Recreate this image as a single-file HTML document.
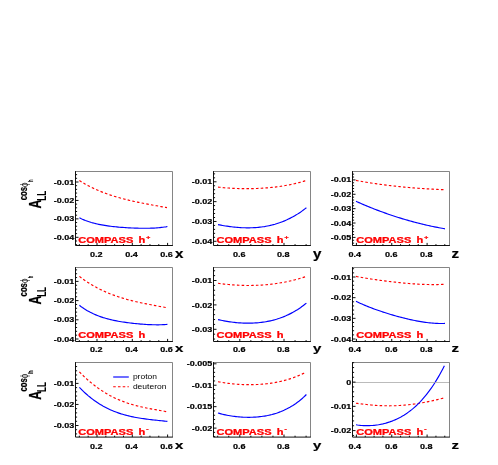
<!DOCTYPE html>
<html><head><meta charset="utf-8"><title>plot</title>
<style>html,body{margin:0;padding:0;background:#fff}svg{display:block}</style></head>
<body>
<svg width="498" height="465" viewBox="0 0 498 465" font-family="Liberation Sans, Arial, Helvetica, sans-serif">
<rect width="498" height="465" fill="#fff"/>
<defs><filter id="soft" x="0" y="0" width="100%" height="100%" filterUnits="userSpaceOnUse"><feGaussianBlur stdDeviation="0.35"/></filter></defs>
<g filter="url(#soft)">
<rect width="498" height="465" fill="#fff"/>
<path d="M79.40,180.61 L80.88,181.53 L82.37,182.42 L83.85,183.29 L85.34,184.13 L86.82,184.95 L88.31,185.74 L89.79,186.51 L91.28,187.25 L92.76,187.97 L94.25,188.67 L95.73,189.35 L97.22,190.01 L98.70,190.65 L100.19,191.27 L101.67,191.87 L103.16,192.45 L104.64,193.01 L106.13,193.56 L107.61,194.09 L109.09,194.60 L110.58,195.10 L112.06,195.59 L113.55,196.06 L115.03,196.51 L116.52,196.96 L118.00,197.39 L119.49,197.81 L120.97,198.21 L122.46,198.61 L123.94,199.00 L125.43,199.37 L126.91,199.74 L128.40,200.10 L129.88,200.45 L131.37,200.79 L132.85,201.12 L134.34,201.45 L135.82,201.77 L137.31,202.08 L138.79,202.39 L140.27,202.69 L141.76,202.99 L143.24,203.28 L144.73,203.57 L146.21,203.85 L147.70,204.14 L149.18,204.42 L150.67,204.69 L152.15,204.97 L153.64,205.24 L155.12,205.51 L156.61,205.78 L158.09,206.05 L159.58,206.32 L161.06,206.59 L162.55,206.87 L164.03,207.14 L165.52,207.41 L167.00,207.68" fill="none" stroke="#ff0000" stroke-width="1.15" stroke-dasharray="2.55,2.2"/>
<path d="M79.40,217.83 L80.89,218.55 L82.38,219.22 L83.87,219.85 L85.37,220.45 L86.86,221.00 L88.35,221.52 L89.84,222.01 L91.33,222.47 L92.82,222.89 L94.32,223.29 L95.81,223.67 L97.30,224.01 L98.79,224.34 L100.28,224.64 L101.77,224.93 L103.26,225.19 L104.76,225.44 L106.25,225.67 L107.74,225.89 L109.23,226.09 L110.72,226.28 L112.21,226.46 L113.71,226.63 L115.20,226.78 L116.69,226.93 L118.18,227.07 L119.67,227.20 L121.16,227.32 L122.65,227.43 L124.15,227.53 L125.64,227.63 L127.13,227.73 L128.62,227.81 L130.11,227.89 L131.60,227.96 L133.09,228.03 L134.59,228.09 L136.08,228.14 L137.57,228.18 L139.06,228.22 L140.55,228.25 L142.04,228.27 L143.54,228.28 L145.03,228.29 L146.52,228.28 L148.01,228.26 L149.50,228.23 L150.99,228.19 L152.48,228.13 L153.98,228.06 L155.47,227.97 L156.96,227.87 L158.45,227.74 L159.94,227.60 L161.43,227.44 L162.93,227.25 L164.42,227.04 L165.91,226.81 L167.40,226.54" fill="none" stroke="#0000ff" stroke-width="1.15"/>
<text transform="translate(74.20,184.50) scale(1.2,1)" font-size="7.5" font-weight="bold" text-anchor="end" fill="#000"  stroke="#000" stroke-width="0.2">-0.01</text>
<text transform="translate(74.20,202.80) scale(1.2,1)" font-size="7.5" font-weight="bold" text-anchor="end" fill="#000"  stroke="#000" stroke-width="0.2">-0.02</text>
<text transform="translate(74.20,221.30) scale(1.2,1)" font-size="7.5" font-weight="bold" text-anchor="end" fill="#000"  stroke="#000" stroke-width="0.2">-0.03</text>
<text transform="translate(74.20,239.80) scale(1.2,1)" font-size="7.5" font-weight="bold" text-anchor="end" fill="#000"  stroke="#000" stroke-width="0.2">-0.04</text>
<text transform="translate(96.30,257.00) scale(1.21,1)" font-size="7.5" font-weight="bold" text-anchor="middle" fill="#000"  stroke="#000" stroke-width="0.2">0.2</text>
<text transform="translate(131.60,257.00) scale(1.21,1)" font-size="7.5" font-weight="bold" text-anchor="middle" fill="#000"  stroke="#000" stroke-width="0.2">0.4</text>
<text transform="translate(166.60,257.00) scale(1.21,1)" font-size="7.5" font-weight="bold" text-anchor="middle" fill="#000"  stroke="#000" stroke-width="0.2">0.6</text>
<text transform="translate(175.10,258.00) scale(1.25,1)" font-size="12.1" font-weight="bold" text-anchor="start" fill="#000"  stroke="#000" stroke-width="0.2">x</text>
<text transform="translate(78.20,243.00) scale(1.335,1)" font-size="8.3" font-weight="bold" text-anchor="start" fill="#ff0000"  stroke="#ff0000" stroke-width="0.25">COMPASS <tspan dx="1.6">h</tspan><tspan font-size="5.2" dx="0.7" dy="-3.6">+</tspan></text>
<path d="M218.00,187.09 L219.50,187.26 L221.00,187.42 L222.49,187.57 L223.99,187.70 L225.49,187.83 L226.99,187.95 L228.49,188.05 L229.99,188.15 L231.48,188.24 L232.98,188.32 L234.48,188.39 L235.98,188.46 L237.48,188.51 L238.98,188.56 L240.47,188.59 L241.97,188.62 L243.47,188.64 L244.97,188.65 L246.47,188.66 L247.97,188.65 L249.46,188.64 L250.96,188.62 L252.46,188.59 L253.96,188.55 L255.46,188.50 L256.96,188.45 L258.45,188.39 L259.95,188.31 L261.45,188.23 L262.95,188.14 L264.45,188.04 L265.95,187.93 L267.44,187.81 L268.94,187.68 L270.44,187.54 L271.94,187.39 L273.44,187.24 L274.94,187.07 L276.43,186.88 L277.93,186.69 L279.43,186.49 L280.93,186.27 L282.43,186.04 L283.93,185.80 L285.42,185.55 L286.92,185.28 L288.42,185.00 L289.92,184.71 L291.42,184.40 L292.92,184.07 L294.41,183.73 L295.91,183.38 L297.41,183.01 L298.91,182.62 L300.41,182.21 L301.91,181.79 L303.40,181.35 L304.90,180.88 L306.40,180.40" fill="none" stroke="#ff0000" stroke-width="1.15" stroke-dasharray="2.55,2.2"/>
<path d="M218.00,224.60 L219.50,224.90 L221.00,225.18 L222.49,225.45 L223.99,225.71 L225.49,225.96 L226.99,226.19 L228.49,226.41 L229.99,226.61 L231.48,226.80 L232.98,226.97 L234.48,227.13 L235.98,227.28 L237.48,227.41 L238.98,227.52 L240.47,227.62 L241.97,227.70 L243.47,227.76 L244.97,227.80 L246.47,227.83 L247.97,227.84 L249.46,227.82 L250.96,227.79 L252.46,227.74 L253.96,227.67 L255.46,227.58 L256.96,227.46 L258.45,227.33 L259.95,227.17 L261.45,226.99 L262.95,226.78 L264.45,226.56 L265.95,226.30 L267.44,226.02 L268.94,225.72 L270.44,225.39 L271.94,225.03 L273.44,224.64 L274.94,224.23 L276.43,223.78 L277.93,223.31 L279.43,222.81 L280.93,222.27 L282.43,221.70 L283.93,221.10 L285.42,220.47 L286.92,219.81 L288.42,219.10 L289.92,218.37 L291.42,217.60 L292.92,216.79 L294.41,215.94 L295.91,215.05 L297.41,214.13 L298.91,213.16 L300.41,212.16 L301.91,211.11 L303.40,210.02 L304.90,208.88 L306.40,207.71" fill="none" stroke="#0000ff" stroke-width="1.15"/>
<text transform="translate(212.20,184.30) scale(1.2,1)" font-size="7.5" font-weight="bold" text-anchor="end" fill="#000"  stroke="#000" stroke-width="0.2">-0.01</text>
<text transform="translate(212.20,204.10) scale(1.2,1)" font-size="7.5" font-weight="bold" text-anchor="end" fill="#000"  stroke="#000" stroke-width="0.2">-0.02</text>
<text transform="translate(212.20,224.00) scale(1.2,1)" font-size="7.5" font-weight="bold" text-anchor="end" fill="#000"  stroke="#000" stroke-width="0.2">-0.03</text>
<text transform="translate(212.20,243.80) scale(1.2,1)" font-size="7.5" font-weight="bold" text-anchor="end" fill="#000"  stroke="#000" stroke-width="0.2">-0.04</text>
<text transform="translate(239.20,257.00) scale(1.21,1)" font-size="7.5" font-weight="bold" text-anchor="middle" fill="#000"  stroke="#000" stroke-width="0.2">0.6</text>
<text transform="translate(283.30,257.00) scale(1.21,1)" font-size="7.5" font-weight="bold" text-anchor="middle" fill="#000"  stroke="#000" stroke-width="0.2">0.8</text>
<text transform="translate(313.10,258.00) scale(1.25,1)" font-size="12.1" font-weight="bold" text-anchor="start" fill="#000"  stroke="#000" stroke-width="0.2">y</text>
<text transform="translate(216.50,243.00) scale(1.335,1)" font-size="8.3" font-weight="bold" text-anchor="start" fill="#ff0000"  stroke="#ff0000" stroke-width="0.25">COMPASS <tspan dx="1.6">h</tspan><tspan font-size="5.2" dx="0.7" dy="-3.6">+</tspan></text>
<path d="M356.00,180.40 L357.51,180.69 L359.02,180.96 L360.53,181.24 L362.03,181.51 L363.54,181.77 L365.05,182.02 L366.56,182.28 L368.07,182.52 L369.58,182.76 L371.08,183.00 L372.59,183.23 L374.10,183.45 L375.61,183.67 L377.12,183.89 L378.63,184.10 L380.14,184.31 L381.64,184.51 L383.15,184.71 L384.66,184.91 L386.17,185.10 L387.68,185.28 L389.19,185.46 L390.69,185.64 L392.20,185.82 L393.71,185.99 L395.22,186.15 L396.73,186.32 L398.24,186.48 L399.75,186.63 L401.25,186.78 L402.76,186.93 L404.27,187.08 L405.78,187.22 L407.29,187.36 L408.80,187.49 L410.31,187.62 L411.81,187.75 L413.32,187.88 L414.83,188.00 L416.34,188.11 L417.85,188.23 L419.36,188.34 L420.86,188.45 L422.37,188.55 L423.88,188.65 L425.39,188.75 L426.90,188.85 L428.41,188.94 L429.92,189.02 L431.42,189.11 L432.93,189.19 L434.44,189.26 L435.95,189.34 L437.46,189.41 L438.97,189.47 L440.47,189.54 L441.98,189.59 L443.49,189.65 L445.00,189.70" fill="none" stroke="#ff0000" stroke-width="1.15" stroke-dasharray="2.55,2.2"/>
<path d="M356.00,201.29 L357.51,201.97 L359.02,202.64 L360.53,203.30 L362.03,203.96 L363.54,204.60 L365.05,205.24 L366.56,205.88 L368.07,206.50 L369.58,207.12 L371.08,207.73 L372.59,208.33 L374.10,208.92 L375.61,209.51 L377.12,210.09 L378.63,210.66 L380.14,211.22 L381.64,211.78 L383.15,212.33 L384.66,212.87 L386.17,213.41 L387.68,213.94 L389.19,214.46 L390.69,214.97 L392.20,215.48 L393.71,215.98 L395.22,216.47 L396.73,216.96 L398.24,217.44 L399.75,217.91 L401.25,218.37 L402.76,218.83 L404.27,219.28 L405.78,219.72 L407.29,220.16 L408.80,220.59 L410.31,221.01 L411.81,221.42 L413.32,221.83 L414.83,222.23 L416.34,222.63 L417.85,223.02 L419.36,223.40 L420.86,223.77 L422.37,224.14 L423.88,224.50 L425.39,224.85 L426.90,225.20 L428.41,225.53 L429.92,225.87 L431.42,226.19 L432.93,226.51 L434.44,226.82 L435.95,227.13 L437.46,227.42 L438.97,227.72 L440.47,228.00 L441.98,228.28 L443.49,228.55 L445.00,228.81" fill="none" stroke="#0000ff" stroke-width="1.15"/>
<text transform="translate(351.20,182.40) scale(1.2,1)" font-size="7.5" font-weight="bold" text-anchor="end" fill="#000"  stroke="#000" stroke-width="0.2">-0.01</text>
<text transform="translate(351.20,196.70) scale(1.2,1)" font-size="7.5" font-weight="bold" text-anchor="end" fill="#000"  stroke="#000" stroke-width="0.2">-0.02</text>
<text transform="translate(351.20,211.10) scale(1.2,1)" font-size="7.5" font-weight="bold" text-anchor="end" fill="#000"  stroke="#000" stroke-width="0.2">-0.03</text>
<text transform="translate(351.20,225.50) scale(1.2,1)" font-size="7.5" font-weight="bold" text-anchor="end" fill="#000"  stroke="#000" stroke-width="0.2">-0.04</text>
<text transform="translate(351.20,239.90) scale(1.2,1)" font-size="7.5" font-weight="bold" text-anchor="end" fill="#000"  stroke="#000" stroke-width="0.2">-0.05</text>
<text transform="translate(354.70,257.00) scale(1.21,1)" font-size="7.5" font-weight="bold" text-anchor="middle" fill="#000"  stroke="#000" stroke-width="0.2">0.4</text>
<text transform="translate(391.20,257.00) scale(1.21,1)" font-size="7.5" font-weight="bold" text-anchor="middle" fill="#000"  stroke="#000" stroke-width="0.2">0.6</text>
<text transform="translate(426.30,257.00) scale(1.21,1)" font-size="7.5" font-weight="bold" text-anchor="middle" fill="#000"  stroke="#000" stroke-width="0.2">0.8</text>
<text transform="translate(451.60,258.00) scale(1.25,1)" font-size="12.1" font-weight="bold" text-anchor="start" fill="#000"  stroke="#000" stroke-width="0.2">z</text>
<text transform="translate(356.20,243.00) scale(1.335,1)" font-size="8.3" font-weight="bold" text-anchor="start" fill="#ff0000"  stroke="#ff0000" stroke-width="0.25">COMPASS <tspan dx="1.6">h</tspan><tspan font-size="5.2" dx="0.7" dy="-3.6">+</tspan></text>
<text transform="translate(41.20,208.50) rotate(-90) scale(0.85,1.18)" font-size="14.5" font-weight="bold" stroke="#000" stroke-width="0.2">A</text>
<text transform="translate(46.00,200.70) rotate(-90) scale(0.8,1.22)" font-size="10" font-weight="bold">LL</text>
<text transform="translate(27.00,200.30) rotate(-90) scale(0.86,1.18)" font-size="9" font-weight="bold" stroke="#000" stroke-width="0.2">cos</text>
<text transform="translate(27.50,187.00) rotate(-90) scale(0.86,1.2)" font-size="9.5" font-weight="normal">&#x3d5;</text>
<text transform="translate(33.20,182.10) rotate(-90) scale(0.75,1.18)" font-size="5.5" font-weight="bold" stroke="#000" stroke-width="0.1">h</text>
<path d="M79.40,276.40 L80.89,277.53 L82.38,278.62 L83.87,279.68 L85.37,280.71 L86.86,281.71 L88.35,282.68 L89.84,283.62 L91.33,284.53 L92.82,285.41 L94.32,286.26 L95.81,287.09 L97.30,287.89 L98.79,288.66 L100.28,289.41 L101.77,290.14 L103.26,290.84 L104.76,291.52 L106.25,292.18 L107.74,292.82 L109.23,293.43 L110.72,294.03 L112.21,294.60 L113.71,295.16 L115.20,295.70 L116.69,296.22 L118.18,296.73 L119.67,297.22 L121.16,297.69 L122.65,298.15 L124.15,298.59 L125.64,299.02 L127.13,299.44 L128.62,299.85 L130.11,300.24 L131.60,300.62 L133.09,300.99 L134.59,301.35 L136.08,301.70 L137.57,302.04 L139.06,302.38 L140.55,302.70 L142.04,303.02 L143.54,303.33 L145.03,303.63 L146.52,303.93 L148.01,304.23 L149.50,304.51 L150.99,304.80 L152.48,305.08 L153.98,305.36 L155.47,305.63 L156.96,305.91 L158.45,306.18 L159.94,306.45 L161.43,306.72 L162.93,306.99 L164.42,307.26 L165.91,307.53 L167.40,307.80" fill="none" stroke="#ff0000" stroke-width="1.15" stroke-dasharray="2.55,2.2"/>
<path d="M79.40,305.30 L80.89,306.44 L82.38,307.51 L83.87,308.53 L85.37,309.49 L86.86,310.40 L88.35,311.25 L89.84,312.07 L91.33,312.83 L92.82,313.56 L94.32,314.24 L95.81,314.88 L97.30,315.49 L98.79,316.07 L100.28,316.61 L101.77,317.12 L103.26,317.61 L104.76,318.06 L106.25,318.49 L107.74,318.90 L109.23,319.29 L110.72,319.65 L112.21,320.00 L113.71,320.32 L115.20,320.63 L116.69,320.92 L118.18,321.20 L119.67,321.47 L121.16,321.72 L122.65,321.96 L124.15,322.18 L125.64,322.40 L127.13,322.61 L128.62,322.80 L130.11,322.99 L131.60,323.17 L133.09,323.34 L134.59,323.50 L136.08,323.65 L137.57,323.79 L139.06,323.93 L140.55,324.06 L142.04,324.18 L143.54,324.29 L145.03,324.39 L146.52,324.48 L148.01,324.56 L149.50,324.63 L150.99,324.69 L152.48,324.74 L153.98,324.78 L155.47,324.80 L156.96,324.81 L158.45,324.81 L159.94,324.79 L161.43,324.75 L162.93,324.69 L164.42,324.61 L165.91,324.52 L167.40,324.40" fill="none" stroke="#0000ff" stroke-width="1.15"/>
<text transform="translate(74.20,283.90) scale(1.2,1)" font-size="7.5" font-weight="bold" text-anchor="end" fill="#000"  stroke="#000" stroke-width="0.2">-0.01</text>
<text transform="translate(74.20,303.10) scale(1.2,1)" font-size="7.5" font-weight="bold" text-anchor="end" fill="#000"  stroke="#000" stroke-width="0.2">-0.02</text>
<text transform="translate(74.20,322.30) scale(1.2,1)" font-size="7.5" font-weight="bold" text-anchor="end" fill="#000"  stroke="#000" stroke-width="0.2">-0.03</text>
<text transform="translate(74.20,341.50) scale(1.2,1)" font-size="7.5" font-weight="bold" text-anchor="end" fill="#000"  stroke="#000" stroke-width="0.2">-0.04</text>
<text transform="translate(96.30,352.00) scale(1.31,1)" font-size="6.9" font-weight="bold" text-anchor="middle" fill="#000"  stroke="#000" stroke-width="0.2">0.2</text>
<text transform="translate(131.60,352.00) scale(1.31,1)" font-size="6.9" font-weight="bold" text-anchor="middle" fill="#000"  stroke="#000" stroke-width="0.2">0.4</text>
<text transform="translate(166.60,352.00) scale(1.31,1)" font-size="6.9" font-weight="bold" text-anchor="middle" fill="#000"  stroke="#000" stroke-width="0.2">0.6</text>
<text transform="translate(175.10,352.00) scale(1.33,1)" font-size="11.3" font-weight="bold" text-anchor="start" fill="#000"  stroke="#000" stroke-width="0.2">x</text>
<text transform="translate(78.20,338.00) scale(1.335,1)" font-size="8.3" font-weight="bold" text-anchor="start" fill="#ff0000"  stroke="#ff0000" stroke-width="0.25">COMPASS <tspan dx="1.6">h</tspan></text>
<path d="M218.00,283.30 L219.50,283.50 L221.00,283.70 L222.49,283.89 L223.99,284.06 L225.49,284.23 L226.99,284.38 L228.49,284.53 L229.99,284.66 L231.48,284.79 L232.98,284.90 L234.48,285.01 L235.98,285.10 L237.48,285.18 L238.98,285.25 L240.47,285.32 L241.97,285.37 L243.47,285.41 L244.97,285.44 L246.47,285.46 L247.97,285.47 L249.46,285.47 L250.96,285.46 L252.46,285.43 L253.96,285.40 L255.46,285.35 L256.96,285.30 L258.45,285.23 L259.95,285.15 L261.45,285.06 L262.95,284.96 L264.45,284.85 L265.95,284.72 L267.44,284.58 L268.94,284.43 L270.44,284.27 L271.94,284.10 L273.44,283.91 L274.94,283.72 L276.43,283.51 L277.93,283.28 L279.43,283.05 L280.93,282.80 L282.43,282.53 L283.93,282.26 L285.42,281.97 L286.92,281.66 L288.42,281.35 L289.92,281.02 L291.42,280.67 L292.92,280.31 L294.41,279.94 L295.91,279.55 L297.41,279.14 L298.91,278.73 L300.41,278.29 L301.91,277.84 L303.40,277.38 L304.90,276.89 L306.40,276.40" fill="none" stroke="#ff0000" stroke-width="1.15" stroke-dasharray="2.55,2.2"/>
<path d="M218.00,319.59 L219.50,319.93 L221.00,320.25 L222.49,320.55 L223.99,320.84 L225.49,321.11 L226.99,321.37 L228.49,321.61 L229.99,321.83 L231.48,322.04 L232.98,322.23 L234.48,322.40 L235.98,322.56 L237.48,322.70 L238.98,322.82 L240.47,322.92 L241.97,323.01 L243.47,323.08 L244.97,323.13 L246.47,323.16 L247.97,323.17 L249.46,323.17 L250.96,323.14 L252.46,323.09 L253.96,323.03 L255.46,322.94 L256.96,322.83 L258.45,322.70 L259.95,322.55 L261.45,322.38 L262.95,322.18 L264.45,321.96 L265.95,321.71 L267.44,321.44 L268.94,321.14 L270.44,320.82 L271.94,320.47 L273.44,320.09 L274.94,319.68 L276.43,319.25 L277.93,318.78 L279.43,318.29 L280.93,317.76 L282.43,317.20 L283.93,316.61 L285.42,315.99 L286.92,315.32 L288.42,314.63 L289.92,313.89 L291.42,313.12 L292.92,312.32 L294.41,311.47 L295.91,310.58 L297.41,309.65 L298.91,308.67 L300.41,307.66 L301.91,306.59 L303.40,305.48 L304.90,304.33 L306.40,303.13" fill="none" stroke="#0000ff" stroke-width="1.15"/>
<text transform="translate(212.20,283.00) scale(1.2,1)" font-size="7.5" font-weight="bold" text-anchor="end" fill="#000"  stroke="#000" stroke-width="0.2">-0.01</text>
<text transform="translate(212.20,307.50) scale(1.2,1)" font-size="7.5" font-weight="bold" text-anchor="end" fill="#000"  stroke="#000" stroke-width="0.2">-0.02</text>
<text transform="translate(212.20,331.80) scale(1.2,1)" font-size="7.5" font-weight="bold" text-anchor="end" fill="#000"  stroke="#000" stroke-width="0.2">-0.03</text>
<text transform="translate(239.20,352.00) scale(1.31,1)" font-size="6.9" font-weight="bold" text-anchor="middle" fill="#000"  stroke="#000" stroke-width="0.2">0.6</text>
<text transform="translate(283.30,352.00) scale(1.31,1)" font-size="6.9" font-weight="bold" text-anchor="middle" fill="#000"  stroke="#000" stroke-width="0.2">0.8</text>
<text transform="translate(313.10,352.00) scale(1.33,1)" font-size="11.3" font-weight="bold" text-anchor="start" fill="#000"  stroke="#000" stroke-width="0.2">y</text>
<text transform="translate(216.50,338.00) scale(1.335,1)" font-size="8.3" font-weight="bold" text-anchor="start" fill="#ff0000"  stroke="#ff0000" stroke-width="0.25">COMPASS <tspan dx="1.6">h</tspan></text>
<path d="M356.00,276.40 L357.51,276.69 L359.02,276.96 L360.53,277.23 L362.03,277.50 L363.54,277.76 L365.05,278.01 L366.56,278.26 L368.07,278.51 L369.58,278.75 L371.08,278.99 L372.59,279.22 L374.10,279.44 L375.61,279.67 L377.12,279.88 L378.63,280.10 L380.14,280.31 L381.64,280.51 L383.15,280.72 L384.66,280.91 L386.17,281.11 L387.68,281.30 L389.19,281.48 L390.69,281.66 L392.20,281.84 L393.71,282.01 L395.22,282.18 L396.73,282.34 L398.24,282.50 L399.75,282.66 L401.25,282.81 L402.76,282.95 L404.27,283.10 L405.78,283.23 L407.29,283.36 L408.80,283.49 L410.31,283.61 L411.81,283.72 L413.32,283.83 L414.83,283.93 L416.34,284.03 L417.85,284.12 L419.36,284.20 L420.86,284.28 L422.37,284.34 L423.88,284.41 L425.39,284.46 L426.90,284.50 L428.41,284.54 L429.92,284.57 L431.42,284.59 L432.93,284.60 L434.44,284.60 L435.95,284.59 L437.46,284.57 L438.97,284.54 L440.47,284.49 L441.98,284.44 L443.49,284.38 L445.00,284.30" fill="none" stroke="#ff0000" stroke-width="1.15" stroke-dasharray="2.55,2.2"/>
<path d="M356.00,301.30 L357.51,302.02 L359.02,302.72 L360.53,303.41 L362.03,304.08 L363.54,304.73 L365.05,305.37 L366.56,305.99 L368.07,306.61 L369.58,307.20 L371.08,307.79 L372.59,308.36 L374.10,308.93 L375.61,309.48 L377.12,310.02 L378.63,310.55 L380.14,311.07 L381.64,311.58 L383.15,312.08 L384.66,312.57 L386.17,313.06 L387.68,313.53 L389.19,314.00 L390.69,314.46 L392.20,314.90 L393.71,315.34 L395.22,315.78 L396.73,316.20 L398.24,316.61 L399.75,317.02 L401.25,317.42 L402.76,317.80 L404.27,318.18 L405.78,318.55 L407.29,318.91 L408.80,319.26 L410.31,319.60 L411.81,319.93 L413.32,320.25 L414.83,320.55 L416.34,320.85 L417.85,321.13 L419.36,321.40 L420.86,321.66 L422.37,321.90 L423.88,322.13 L425.39,322.34 L426.90,322.54 L428.41,322.72 L429.92,322.89 L431.42,323.03 L432.93,323.16 L434.44,323.27 L435.95,323.35 L437.46,323.42 L438.97,323.46 L440.47,323.48 L441.98,323.48 L443.49,323.45 L445.00,323.39" fill="none" stroke="#0000ff" stroke-width="1.15"/>
<text transform="translate(351.20,279.50) scale(1.2,1)" font-size="7.5" font-weight="bold" text-anchor="end" fill="#000"  stroke="#000" stroke-width="0.2">-0.01</text>
<text transform="translate(351.20,300.20) scale(1.2,1)" font-size="7.5" font-weight="bold" text-anchor="end" fill="#000"  stroke="#000" stroke-width="0.2">-0.02</text>
<text transform="translate(351.20,320.80) scale(1.2,1)" font-size="7.5" font-weight="bold" text-anchor="end" fill="#000"  stroke="#000" stroke-width="0.2">-0.03</text>
<text transform="translate(351.20,341.50) scale(1.2,1)" font-size="7.5" font-weight="bold" text-anchor="end" fill="#000"  stroke="#000" stroke-width="0.2">-0.04</text>
<text transform="translate(354.70,352.00) scale(1.31,1)" font-size="6.9" font-weight="bold" text-anchor="middle" fill="#000"  stroke="#000" stroke-width="0.2">0.4</text>
<text transform="translate(391.20,352.00) scale(1.31,1)" font-size="6.9" font-weight="bold" text-anchor="middle" fill="#000"  stroke="#000" stroke-width="0.2">0.6</text>
<text transform="translate(426.30,352.00) scale(1.31,1)" font-size="6.9" font-weight="bold" text-anchor="middle" fill="#000"  stroke="#000" stroke-width="0.2">0.8</text>
<text transform="translate(451.60,352.00) scale(1.33,1)" font-size="11.3" font-weight="bold" text-anchor="start" fill="#000"  stroke="#000" stroke-width="0.2">z</text>
<text transform="translate(356.20,338.00) scale(1.335,1)" font-size="8.3" font-weight="bold" text-anchor="start" fill="#ff0000"  stroke="#ff0000" stroke-width="0.25">COMPASS <tspan dx="1.6">h</tspan></text>
<text transform="translate(41.20,304.60) rotate(-90) scale(0.85,1.18)" font-size="14.5" font-weight="bold" stroke="#000" stroke-width="0.2">A</text>
<text transform="translate(46.00,296.80) rotate(-90) scale(0.8,1.22)" font-size="10" font-weight="bold">LL</text>
<text transform="translate(27.00,296.40) rotate(-90) scale(0.86,1.18)" font-size="9" font-weight="bold" stroke="#000" stroke-width="0.2">cos</text>
<text transform="translate(27.50,283.10) rotate(-90) scale(0.86,1.2)" font-size="9.5" font-weight="normal">&#x3d5;</text>
<text transform="translate(33.20,278.20) rotate(-90) scale(0.75,1.18)" font-size="5.5" font-weight="bold" stroke="#000" stroke-width="0.1">h</text>
<path d="M79.40,371.91 L80.89,373.42 L82.38,374.90 L83.87,376.33 L85.37,377.73 L86.86,379.09 L88.35,380.41 L89.84,381.69 L91.33,382.93 L92.82,384.14 L94.32,385.31 L95.81,386.44 L97.30,387.54 L98.79,388.61 L100.28,389.64 L101.77,390.63 L103.26,391.59 L104.76,392.52 L106.25,393.42 L107.74,394.28 L109.23,395.12 L110.72,395.92 L112.21,396.69 L113.71,397.44 L115.20,398.15 L116.69,398.84 L118.18,399.50 L119.67,400.14 L121.16,400.75 L122.65,401.33 L124.15,401.89 L125.64,402.43 L127.13,402.94 L128.62,403.43 L130.11,403.91 L131.60,404.36 L133.09,404.79 L134.59,405.21 L136.08,405.61 L137.57,405.99 L139.06,406.35 L140.55,406.71 L142.04,407.05 L143.54,407.37 L145.03,407.69 L146.52,408.00 L148.01,408.29 L149.50,408.58 L150.99,408.87 L152.48,409.14 L153.98,409.42 L155.47,409.68 L156.96,409.95 L158.45,410.22 L159.94,410.48 L161.43,410.75 L162.93,411.02 L164.42,411.29 L165.91,411.57 L167.40,411.85" fill="none" stroke="#ff0000" stroke-width="1.15" stroke-dasharray="2.55,2.2"/>
<path d="M79.40,387.42 L80.89,388.95 L82.38,390.43 L83.87,391.85 L85.37,393.23 L86.86,394.55 L88.35,395.83 L89.84,397.05 L91.33,398.24 L92.82,399.37 L94.32,400.47 L95.81,401.52 L97.30,402.53 L98.79,403.50 L100.28,404.42 L101.77,405.31 L103.26,406.17 L104.76,406.98 L106.25,407.76 L107.74,408.51 L109.23,409.22 L110.72,409.90 L112.21,410.55 L113.71,411.17 L115.20,411.76 L116.69,412.32 L118.18,412.85 L119.67,413.35 L121.16,413.84 L122.65,414.29 L124.15,414.73 L125.64,415.14 L127.13,415.53 L128.62,415.90 L130.11,416.25 L131.60,416.58 L133.09,416.89 L134.59,417.19 L136.08,417.47 L137.57,417.74 L139.06,417.99 L140.55,418.23 L142.04,418.46 L143.54,418.68 L145.03,418.88 L146.52,419.08 L148.01,419.27 L149.50,419.46 L150.99,419.63 L152.48,419.81 L153.98,419.97 L155.47,420.14 L156.96,420.30 L158.45,420.46 L159.94,420.62 L161.43,420.78 L162.93,420.94 L164.42,421.10 L165.91,421.26 L167.40,421.43" fill="none" stroke="#0000ff" stroke-width="1.15"/>
<text transform="translate(74.20,385.90) scale(1.2,1)" font-size="7.5" font-weight="bold" text-anchor="end" fill="#000"  stroke="#000" stroke-width="0.2">-0.01</text>
<text transform="translate(74.20,406.90) scale(1.2,1)" font-size="7.5" font-weight="bold" text-anchor="end" fill="#000"  stroke="#000" stroke-width="0.2">-0.02</text>
<text transform="translate(74.20,428.00) scale(1.2,1)" font-size="7.5" font-weight="bold" text-anchor="end" fill="#000"  stroke="#000" stroke-width="0.2">-0.03</text>
<text transform="translate(96.30,449.00) scale(1.27,1)" font-size="7.1" font-weight="bold" text-anchor="middle" fill="#000"  stroke="#000" stroke-width="0.2">0.2</text>
<text transform="translate(131.60,449.00) scale(1.27,1)" font-size="7.1" font-weight="bold" text-anchor="middle" fill="#000"  stroke="#000" stroke-width="0.2">0.4</text>
<text transform="translate(166.60,449.00) scale(1.27,1)" font-size="7.1" font-weight="bold" text-anchor="middle" fill="#000"  stroke="#000" stroke-width="0.2">0.6</text>
<text transform="translate(175.10,449.00) scale(1.38,1)" font-size="10.8" font-weight="bold" text-anchor="start" fill="#000"  stroke="#000" stroke-width="0.2">x</text>
<text transform="translate(78.20,435.00) scale(1.335,1)" font-size="8.3" font-weight="bold" text-anchor="start" fill="#ff0000"  stroke="#ff0000" stroke-width="0.25">COMPASS <tspan dx="1.6">h</tspan><tspan font-size="5.2" dx="0.7" dy="-3.6">-</tspan></text>
<path d="M218.00,381.70 L219.48,381.98 L220.96,382.25 L222.44,382.50 L223.93,382.74 L225.41,382.96 L226.89,383.17 L228.37,383.37 L229.85,383.55 L231.33,383.72 L232.81,383.87 L234.29,384.01 L235.78,384.14 L237.26,384.25 L238.74,384.36 L240.22,384.44 L241.70,384.52 L243.18,384.58 L244.66,384.63 L246.15,384.67 L247.63,384.69 L249.11,384.70 L250.59,384.69 L252.07,384.68 L253.55,384.65 L255.03,384.60 L256.52,384.54 L258.00,384.47 L259.48,384.39 L260.96,384.28 L262.44,384.17 L263.92,384.04 L265.40,383.89 L266.88,383.73 L268.37,383.55 L269.85,383.36 L271.33,383.14 L272.81,382.91 L274.29,382.67 L275.77,382.40 L277.25,382.12 L278.74,381.82 L280.22,381.49 L281.70,381.15 L283.18,380.79 L284.66,380.40 L286.14,380.00 L287.62,379.57 L289.11,379.12 L290.59,378.64 L292.07,378.14 L293.55,377.61 L295.03,377.06 L296.51,376.48 L297.99,375.87 L299.47,375.24 L300.96,374.58 L302.44,373.88 L303.92,373.16 L305.40,372.40" fill="none" stroke="#ff0000" stroke-width="1.15" stroke-dasharray="2.55,2.2"/>
<path d="M218.00,412.99 L219.50,413.42 L221.00,413.83 L222.49,414.21 L223.99,414.57 L225.49,414.90 L226.99,415.21 L228.49,415.50 L229.99,415.76 L231.48,416.01 L232.98,416.23 L234.48,416.43 L235.98,416.61 L237.48,416.77 L238.98,416.91 L240.47,417.03 L241.97,417.12 L243.47,417.20 L244.97,417.26 L246.47,417.30 L247.97,417.32 L249.46,417.31 L250.96,417.29 L252.46,417.25 L253.96,417.18 L255.46,417.09 L256.96,416.98 L258.45,416.85 L259.95,416.69 L261.45,416.51 L262.95,416.30 L264.45,416.07 L265.95,415.81 L267.44,415.53 L268.94,415.21 L270.44,414.87 L271.94,414.50 L273.44,414.09 L274.94,413.66 L276.43,413.19 L277.93,412.68 L279.43,412.14 L280.93,411.57 L282.43,410.95 L283.93,410.30 L285.42,409.60 L286.92,408.86 L288.42,408.07 L289.92,407.24 L291.42,406.36 L292.92,405.43 L294.41,404.45 L295.91,403.42 L297.41,402.33 L298.91,401.18 L300.41,399.97 L301.91,398.70 L303.40,397.37 L304.90,395.97 L306.40,394.51" fill="none" stroke="#0000ff" stroke-width="1.15"/>
<text transform="translate(212.20,366.30) scale(1.2,1)" font-size="7.5" font-weight="bold" text-anchor="end" fill="#000"  stroke="#000" stroke-width="0.2">-0.005</text>
<text transform="translate(212.20,387.80) scale(1.2,1)" font-size="7.5" font-weight="bold" text-anchor="end" fill="#000"  stroke="#000" stroke-width="0.2">-0.01</text>
<text transform="translate(212.20,409.20) scale(1.2,1)" font-size="7.5" font-weight="bold" text-anchor="end" fill="#000"  stroke="#000" stroke-width="0.2">-0.015</text>
<text transform="translate(212.20,430.60) scale(1.2,1)" font-size="7.5" font-weight="bold" text-anchor="end" fill="#000"  stroke="#000" stroke-width="0.2">-0.02</text>
<text transform="translate(239.20,449.00) scale(1.27,1)" font-size="7.1" font-weight="bold" text-anchor="middle" fill="#000"  stroke="#000" stroke-width="0.2">0.6</text>
<text transform="translate(283.30,449.00) scale(1.27,1)" font-size="7.1" font-weight="bold" text-anchor="middle" fill="#000"  stroke="#000" stroke-width="0.2">0.8</text>
<text transform="translate(313.10,449.00) scale(1.38,1)" font-size="10.8" font-weight="bold" text-anchor="start" fill="#000"  stroke="#000" stroke-width="0.2">y</text>
<text transform="translate(216.50,435.00) scale(1.335,1)" font-size="8.3" font-weight="bold" text-anchor="start" fill="#ff0000"  stroke="#ff0000" stroke-width="0.25">COMPASS <tspan dx="1.6">h</tspan><tspan font-size="5.2" dx="0.7" dy="-3.6">-</tspan></text>
<path d="M356.00,403.20 L357.51,403.42 L359.02,403.63 L360.53,403.83 L362.03,404.02 L363.54,404.21 L365.05,404.38 L366.56,404.55 L368.07,404.71 L369.58,404.86 L371.08,405.00 L372.59,405.13 L374.10,405.25 L375.61,405.35 L377.12,405.45 L378.63,405.54 L380.14,405.61 L381.64,405.67 L383.15,405.72 L384.66,405.76 L386.17,405.79 L387.68,405.81 L389.19,405.81 L390.69,405.80 L392.20,405.78 L393.71,405.75 L395.22,405.70 L396.73,405.64 L398.24,405.57 L399.75,405.49 L401.25,405.39 L402.76,405.28 L404.27,405.16 L405.78,405.03 L407.29,404.88 L408.80,404.72 L410.31,404.55 L411.81,404.37 L413.32,404.17 L414.83,403.97 L416.34,403.75 L417.85,403.52 L419.36,403.28 L420.86,403.03 L422.37,402.76 L423.88,402.49 L425.39,402.21 L426.90,401.91 L428.41,401.61 L429.92,401.29 L431.42,400.97 L432.93,400.64 L434.44,400.30 L435.95,399.95 L437.46,399.59 L438.97,399.23 L440.47,398.86 L441.98,398.48 L443.49,398.09 L445.00,397.70" fill="none" stroke="#ff0000" stroke-width="1.15" stroke-dasharray="2.55,2.2"/>
<path d="M356.00,424.80 L357.50,425.02 L359.00,425.20 L360.49,425.36 L361.99,425.48 L363.49,425.57 L364.99,425.63 L366.49,425.66 L367.99,425.65 L369.48,425.62 L370.98,425.55 L372.48,425.45 L373.98,425.32 L375.48,425.16 L376.98,424.96 L378.47,424.74 L379.97,424.47 L381.47,424.18 L382.97,423.85 L384.47,423.48 L385.97,423.08 L387.46,422.64 L388.96,422.17 L390.46,421.65 L391.96,421.10 L393.46,420.51 L394.96,419.88 L396.45,419.20 L397.95,418.48 L399.45,417.72 L400.95,416.91 L402.45,416.05 L403.95,415.14 L405.44,414.19 L406.94,413.18 L408.44,412.12 L409.94,411.01 L411.44,409.84 L412.94,408.61 L414.43,407.32 L415.93,405.97 L417.43,404.55 L418.93,403.07 L420.43,401.53 L421.93,399.91 L423.42,398.22 L424.92,396.46 L426.42,394.62 L427.92,392.70 L429.42,390.71 L430.92,388.62 L432.41,386.46 L433.91,384.20 L435.41,381.86 L436.91,379.42 L438.41,376.88 L439.91,374.25 L441.40,371.51 L442.90,368.67 L444.40,365.72" fill="none" stroke="#0000ff" stroke-width="1.15"/>
<text transform="translate(351.20,384.60) scale(1.2,1)" font-size="7.5" font-weight="bold" text-anchor="end" fill="#000"  stroke="#000" stroke-width="0.2">0</text>
<text transform="translate(351.20,408.80) scale(1.2,1)" font-size="7.5" font-weight="bold" text-anchor="end" fill="#000"  stroke="#000" stroke-width="0.2">-0.01</text>
<text transform="translate(351.20,433.10) scale(1.2,1)" font-size="7.5" font-weight="bold" text-anchor="end" fill="#000"  stroke="#000" stroke-width="0.2">-0.02</text>
<text transform="translate(354.70,449.00) scale(1.27,1)" font-size="7.1" font-weight="bold" text-anchor="middle" fill="#000"  stroke="#000" stroke-width="0.2">0.4</text>
<text transform="translate(391.20,449.00) scale(1.27,1)" font-size="7.1" font-weight="bold" text-anchor="middle" fill="#000"  stroke="#000" stroke-width="0.2">0.6</text>
<text transform="translate(426.30,449.00) scale(1.27,1)" font-size="7.1" font-weight="bold" text-anchor="middle" fill="#000"  stroke="#000" stroke-width="0.2">0.8</text>
<text transform="translate(451.60,449.00) scale(1.38,1)" font-size="10.8" font-weight="bold" text-anchor="start" fill="#000"  stroke="#000" stroke-width="0.2">z</text>
<text transform="translate(356.20,435.00) scale(1.335,1)" font-size="8.3" font-weight="bold" text-anchor="start" fill="#ff0000"  stroke="#ff0000" stroke-width="0.25">COMPASS <tspan dx="1.6">h</tspan><tspan font-size="5.2" dx="0.7" dy="-3.6">-</tspan></text>
<text transform="translate(41.20,399.70) rotate(-90) scale(0.85,1.18)" font-size="14.5" font-weight="bold" stroke="#000" stroke-width="0.2">A</text>
<text transform="translate(46.00,391.90) rotate(-90) scale(0.8,1.22)" font-size="10" font-weight="bold">LL</text>
<text transform="translate(27.00,391.50) rotate(-90) scale(0.86,1.18)" font-size="9" font-weight="bold" stroke="#000" stroke-width="0.2">cos</text>
<text transform="translate(27.50,378.20) rotate(-90) scale(0.86,1.2)" font-size="9.5" font-weight="normal">&#x3d5;</text>
<text transform="translate(33.40,373.80) rotate(-90) scale(0.8,1.18)" font-size="6.6" font-weight="bold" stroke="#000" stroke-width="0.1">h</text>
<line x1="113.2" x2="128.8" y1="377.0" y2="377.0" stroke="#0000ff" stroke-width="1.15"/>
<line x1="113.2" x2="128.8" y1="386.7" y2="386.7" stroke="#ff0000" stroke-width="1.15" stroke-dasharray="2.55,2.2"/>
<text transform="translate(132.90,379.20) scale(1.35,1)" font-size="6.3" font-weight="normal" text-anchor="start" fill="#000" >proton</text>
<text transform="translate(132.90,388.80) scale(1.35,1)" font-size="6.3" font-weight="normal" text-anchor="start" fill="#000" >deuteron</text>
</g>
<path d="M75.5,171.5H172.5V245.5" fill="none" stroke="#666" stroke-width="0.8"/>
<path d="M75.5,171.1V245.5H172.9" fill="none" stroke="#111" stroke-width="1.0"/>
<path d="M75.5,174.63h1.6M75.5,178.31h1.6M75.5,182.00h3.0M75.5,185.69h1.6M75.5,189.37h1.6M75.5,193.06h1.6M75.5,196.75h1.6M75.5,200.43h3.0M75.5,204.12h1.6M75.5,207.81h1.6M75.5,211.49h1.6M75.5,215.18h1.6M75.5,218.87h3.0M75.5,222.55h1.6M75.5,226.24h1.6M75.5,229.93h1.6M75.5,233.61h1.6M75.5,237.30h3.0M75.5,240.99h1.6M75.5,244.67h1.6" stroke="#000" stroke-width="0.95" fill="none"/>
<path d="M79.35,245.5v-1.4M88.17,245.5v-1.4M97.00,245.5v-2.6M105.83,245.5v-1.4M114.65,245.5v-1.4M123.48,245.5v-1.4M132.30,245.5v-2.6M141.12,245.5v-1.4M149.95,245.5v-1.4M158.77,245.5v-1.4M167.60,245.5v-2.6" stroke="#000" stroke-width="0.95" fill="none"/>
<path d="M213.5,171.5H310.5V245.5" fill="none" stroke="#666" stroke-width="0.8"/>
<path d="M213.5,171.1V245.5H310.9" fill="none" stroke="#111" stroke-width="1.0"/>
<path d="M213.5,173.87h1.6M213.5,177.83h1.6M213.5,181.80h3.0M213.5,185.77h1.6M213.5,189.73h1.6M213.5,193.70h1.6M213.5,197.67h1.6M213.5,201.63h3.0M213.5,205.60h1.6M213.5,209.57h1.6M213.5,213.53h1.6M213.5,217.50h1.6M213.5,221.47h3.0M213.5,225.43h1.6M213.5,229.40h1.6M213.5,233.37h1.6M213.5,237.33h1.6M213.5,241.30h3.0" stroke="#000" stroke-width="0.95" fill="none"/>
<path d="M217.70,245.5v-1.4M228.75,245.5v-1.4M239.80,245.5v-2.6M250.85,245.5v-1.4M261.90,245.5v-1.4M272.95,245.5v-1.4M284.00,245.5v-2.6M295.05,245.5v-1.4M306.10,245.5v-1.4" stroke="#000" stroke-width="0.95" fill="none"/>
<path d="M352.5,171.5H449.5V245.5" fill="none" stroke="#666" stroke-width="0.8"/>
<path d="M352.5,171.1V245.5H449.9" fill="none" stroke="#111" stroke-width="1.0"/>
<path d="M352.5,174.15h1.6M352.5,177.03h1.6M352.5,179.90h3.0M352.5,182.78h1.6M352.5,185.65h1.6M352.5,188.53h1.6M352.5,191.40h1.6M352.5,194.28h3.0M352.5,197.15h1.6M352.5,200.03h1.6M352.5,202.90h1.6M352.5,205.78h1.6M352.5,208.65h3.0M352.5,211.53h1.6M352.5,214.40h1.6M352.5,217.28h1.6M352.5,220.15h1.6M352.5,223.03h3.0M352.5,225.90h1.6M352.5,228.78h1.6M352.5,231.65h1.6M352.5,234.53h1.6M352.5,237.40h3.0M352.5,240.28h1.6M352.5,243.15h1.6" stroke="#000" stroke-width="0.95" fill="none"/>
<path d="M356.40,245.5v-2.6M365.24,245.5v-1.4M374.07,245.5v-1.4M382.91,245.5v-1.4M391.75,245.5v-2.6M400.59,245.5v-1.4M409.42,245.5v-1.4M418.26,245.5v-1.4M427.10,245.5v-2.6M435.94,245.5v-1.4M444.77,245.5v-1.4" stroke="#000" stroke-width="0.95" fill="none"/>
<path d="M75.5,267.5H172.5V341.5" fill="none" stroke="#666" stroke-width="0.8"/>
<path d="M75.5,267.1V341.5H172.9" fill="none" stroke="#111" stroke-width="1.0"/>
<path d="M75.5,269.88h1.6M75.5,273.72h1.6M75.5,277.56h1.6M75.5,281.40h3.0M75.5,285.24h1.6M75.5,289.08h1.6M75.5,292.92h1.6M75.5,296.76h1.6M75.5,300.60h3.0M75.5,304.44h1.6M75.5,308.28h1.6M75.5,312.12h1.6M75.5,315.96h1.6M75.5,319.80h3.0M75.5,323.64h1.6M75.5,327.48h1.6M75.5,331.32h1.6M75.5,335.16h1.6M75.5,339.00h3.0" stroke="#000" stroke-width="0.95" fill="none"/>
<path d="M79.35,341.5v-1.4M88.17,341.5v-1.4M97.00,341.5v-2.6M105.83,341.5v-1.4M114.65,341.5v-1.4M123.48,341.5v-1.4M132.30,341.5v-2.6M141.12,341.5v-1.4M149.95,341.5v-1.4M158.77,341.5v-1.4M167.60,341.5v-2.6" stroke="#000" stroke-width="0.95" fill="none"/>
<path d="M213.5,267.5H310.5V341.5" fill="none" stroke="#666" stroke-width="0.8"/>
<path d="M213.5,267.1V341.5H310.9" fill="none" stroke="#111" stroke-width="1.0"/>
<path d="M213.5,270.74h1.6M213.5,275.62h1.6M213.5,280.50h3.0M213.5,285.38h1.6M213.5,290.26h1.6M213.5,295.14h1.6M213.5,300.02h1.6M213.5,304.90h3.0M213.5,309.78h1.6M213.5,314.66h1.6M213.5,319.54h1.6M213.5,324.42h1.6M213.5,329.30h3.0M213.5,334.18h1.6M213.5,339.06h1.6" stroke="#000" stroke-width="0.95" fill="none"/>
<path d="M217.70,341.5v-1.4M228.75,341.5v-1.4M239.80,341.5v-2.6M250.85,341.5v-1.4M261.90,341.5v-1.4M272.95,341.5v-1.4M284.00,341.5v-2.6M295.05,341.5v-1.4M306.10,341.5v-1.4" stroke="#000" stroke-width="0.95" fill="none"/>
<path d="M352.5,267.5H449.5V341.5" fill="none" stroke="#666" stroke-width="0.8"/>
<path d="M352.5,267.1V341.5H449.9" fill="none" stroke="#111" stroke-width="1.0"/>
<path d="M352.5,268.73h1.6M352.5,272.87h1.6M352.5,277.00h3.0M352.5,281.13h1.6M352.5,285.27h1.6M352.5,289.40h1.6M352.5,293.53h1.6M352.5,297.67h3.0M352.5,301.80h1.6M352.5,305.93h1.6M352.5,310.07h1.6M352.5,314.20h1.6M352.5,318.33h3.0M352.5,322.47h1.6M352.5,326.60h1.6M352.5,330.73h1.6M352.5,334.87h1.6M352.5,339.00h3.0" stroke="#000" stroke-width="0.95" fill="none"/>
<path d="M356.40,341.5v-2.6M365.24,341.5v-1.4M374.07,341.5v-1.4M382.91,341.5v-1.4M391.75,341.5v-2.6M400.59,341.5v-1.4M409.42,341.5v-1.4M418.26,341.5v-1.4M427.10,341.5v-2.6M435.94,341.5v-1.4M444.77,341.5v-1.4" stroke="#000" stroke-width="0.95" fill="none"/>
<path d="M75.5,362.5H172.5V437.1" fill="none" stroke="#666" stroke-width="0.8"/>
<path d="M75.5,362.1V437.1H172.9" fill="none" stroke="#111" stroke-width="1.0"/>
<path d="M75.5,366.56h1.6M75.5,370.77h1.6M75.5,374.98h1.6M75.5,379.19h1.6M75.5,383.40h3.0M75.5,387.61h1.6M75.5,391.82h1.6M75.5,396.03h1.6M75.5,400.24h1.6M75.5,404.45h3.0M75.5,408.66h1.6M75.5,412.87h1.6M75.5,417.08h1.6M75.5,421.29h1.6M75.5,425.50h3.0M75.5,429.71h1.6M75.5,433.92h1.6" stroke="#000" stroke-width="0.95" fill="none"/>
<path d="M79.35,437.1v-1.4M88.17,437.1v-1.4M97.00,437.1v-2.6M105.83,437.1v-1.4M114.65,437.1v-1.4M123.48,437.1v-1.4M132.30,437.1v-2.6M141.12,437.1v-1.4M149.95,437.1v-1.4M158.77,437.1v-1.4M167.60,437.1v-2.6" stroke="#000" stroke-width="0.95" fill="none"/>
<path d="M213.5,362.5H310.5V437.1" fill="none" stroke="#666" stroke-width="0.8"/>
<path d="M213.5,362.1V437.1H310.9" fill="none" stroke="#111" stroke-width="1.0"/>
<path d="M213.5,363.80h3.0M213.5,368.09h1.6M213.5,372.37h1.6M213.5,376.66h1.6M213.5,380.95h1.6M213.5,385.23h3.0M213.5,389.52h1.6M213.5,393.81h1.6M213.5,398.09h1.6M213.5,402.38h1.6M213.5,406.67h3.0M213.5,410.95h1.6M213.5,415.24h1.6M213.5,419.53h1.6M213.5,423.81h1.6M213.5,428.10h3.0M213.5,432.39h1.6M213.5,436.67h1.6" stroke="#000" stroke-width="0.95" fill="none"/>
<path d="M217.70,437.1v-1.4M228.75,437.1v-1.4M239.80,437.1v-2.6M250.85,437.1v-1.4M261.90,437.1v-1.4M272.95,437.1v-1.4M284.00,437.1v-2.6M295.05,437.1v-1.4M306.10,437.1v-1.4" stroke="#000" stroke-width="0.95" fill="none"/>
<line x1="352.5" x2="449.5" y1="382.5" y2="382.5" stroke="#aaa" stroke-width="0.8"/>
<path d="M352.5,362.5H449.5V437.1" fill="none" stroke="#666" stroke-width="0.8"/>
<path d="M352.5,362.1V437.1H449.9" fill="none" stroke="#111" stroke-width="1.0"/>
<path d="M352.5,362.70h1.6M352.5,367.55h1.6M352.5,372.40h1.6M352.5,377.25h1.6M352.5,382.10h3.0M352.5,386.95h1.6M352.5,391.80h1.6M352.5,396.65h1.6M352.5,401.50h1.6M352.5,406.35h3.0M352.5,411.20h1.6M352.5,416.05h1.6M352.5,420.90h1.6M352.5,425.75h1.6M352.5,430.60h3.0M352.5,435.45h1.6" stroke="#000" stroke-width="0.95" fill="none"/>
<path d="M356.40,437.1v-2.6M365.24,437.1v-1.4M374.07,437.1v-1.4M382.91,437.1v-1.4M391.75,437.1v-2.6M400.59,437.1v-1.4M409.42,437.1v-1.4M418.26,437.1v-1.4M427.10,437.1v-2.6M435.94,437.1v-1.4M444.77,437.1v-1.4" stroke="#000" stroke-width="0.95" fill="none"/>
</svg>
</body></html>
